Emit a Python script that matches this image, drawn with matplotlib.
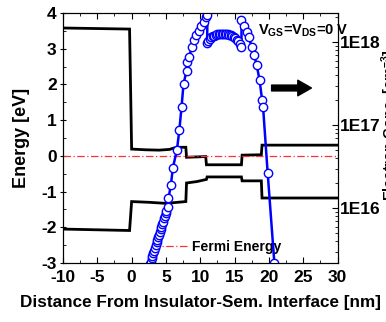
import numpy as np
import matplotlib
matplotlib.use("Agg")
import matplotlib.pyplot as plt
from matplotlib.ticker import MultipleLocator, LogLocator, NullFormatter

plt.rcParams['font.family'] = ['Liberation Sans', 'DejaVu Sans']
plt.rcParams['font.weight'] = 'bold'
plt.rcParams['axes.labelweight'] = 'bold'
plt.rcParams['axes.unicode_minus'] = False
plt.rcParams['mathtext.fontset'] = 'custom'
plt.rcParams['mathtext.rm'] = 'Liberation Sans:bold'
plt.rcParams['mathtext.bf'] = 'Liberation Sans:bold'
plt.rcParams['mathtext.it'] = 'Liberation Sans:bold'

# ---- data ----
cb_x = [-10, -0.3, 0.0, 2.0, 4.0, 5.5, 6.5, 7.9, 8.0, 10.8, 10.9, 16.0, 16.1, 18.9, 19.0, 30]
cb_y = [3.58, 3.55, 0.19, 0.17, 0.16, 0.18, 0.24, 0.24, -0.04, -0.02, -0.25, -0.25, 0.02, 0.03, 0.30, 0.30]

vb_x = [-10, -0.3, 0.0, 2.5, 5.0, 7.9, 8.0, 9.5, 10.9, 11.0, 16.0, 16.1, 18.9, 19.0, 30]
vb_y = [-2.05, -2.09, -1.28, -1.30, -1.33, -1.28, -0.76, -0.72, -0.66, -0.59, -0.59, -0.70, -0.70, -1.18, -1.18]

fermi_x = [-10, 30]
fermi_y = [0, 0]

elec_x = [2.55, 2.67, 2.79, 2.91, 3.03, 3.15, 3.27, 3.39, 3.51, 3.63, 3.75,
          3.87, 3.99, 4.11, 4.23, 4.35, 4.47, 4.59, 4.71, 4.83, 4.95, 5.07,
          5.23, 5.37, 5.72, 6.01, 6.60, 6.96, 7.27, 7.56, 8.00, 8.06, 8.39,
          8.79, 9.02, 9.37, 9.75, 10.15, 10.48, 10.88, 11.05,
          11.00, 11.17, 11.39, 11.61, 11.83, 12.05, 12.27, 12.49, 12.71, 12.93,
          13.15, 13.37, 13.59, 13.81, 14.03, 14.25, 14.47, 14.69, 14.91, 15.13,
          15.35, 15.57, 15.79, 16.01,
          16.01, 16.32, 16.76, 17.05, 17.49, 17.85, 18.22, 18.64, 19.01, 19.15,
          19.82, 20.80]
elec_n = [2.0e15, 2.14e15, 2.29e15, 2.51e15, 2.69e15, 2.88e15, 3.09e15, 3.31e15, 3.63e15, 3.89e15, 4.17e15,
          4.47e15, 4.79e15, 5.25e15, 5.62e15, 6.03e15, 6.46e15, 6.92e15, 7.59e15, 8.13e15, 8.71e15, 9.33e15,
          1.04e16, 1.32e16, 1.91e16, 3.08e16, 5.04e16, 8.85e16, 1.65e17, 3.12e17, 4.55e17, 5.84e17, 6.71e17,
          8.86e17, 1.05e18, 1.22e18, 1.38e18, 1.57e18, 1.77e18, 2.0e18, 2.13e18,
          9.77e17, 1.047e18, 1.096e18, 1.148e18, 1.175e18, 1.202e18, 1.230e18, 1.245e18, 1.259e18, 1.259e18,
          1.259e18, 1.259e18, 1.259e18, 1.259e18, 1.245e18, 1.230e18, 1.216e18, 1.189e18, 1.161e18, 1.122e18,
          1.072e18, 1.023e18, 9.55e17, 8.71e17,
          1.86e18, 1.57e18, 1.34e18, 1.17e18, 8.86e17, 7.03e17, 5.33e17, 3.52e17, 2.02e17, 1.68e17,
          2.70e16, 2.2e15]

x_ticks = [-10, -5, 0, 5, 10, 15, 20, 25, 30]
x_labels = ['-10', '-5', '0', '5', '10', '15', '20', '25', '30']
e_ticks = [-3, -2, -1, 0, 1, 2, 3, 4]
e_labels = ['-3', '-2', '-1', '0', '1', '2', '3', '4']
n_ticks = [1e16, 1e17, 1e18]
n_labels = ['1E16', '1E17', '1E18']

# ---- figure ----
fig = plt.figure(figsize=(3.86, 3.22), dpi=100)
ax = fig.add_axes([63/386, 1 - 263/322, 274.5/386, 250/322])

ax.plot(cb_x, cb_y, color='black', lw=2.0, solid_joinstyle='miter')
ax.plot(vb_x, vb_y, color='black', lw=2.0, solid_joinstyle='miter')
fl, = ax.plot(fermi_x, fermi_y, color='#ff3030', lw=0.9, linestyle=(0, (6, 2, 1, 2)),
              label='Fermi Energy')

ax.set_xlim(-10, 30)
ax.set_ylim(-3, 4)
tick_font = {'size': 12.5, 'weight': 'bold', 'family': 'Liberation Sans'}
ax.set_xticks(x_ticks, labels=x_labels, fontdict=tick_font)
ax.set_yticks(e_ticks, labels=e_labels, fontdict=tick_font)
ax.xaxis.set_minor_locator(MultipleLocator(2.5))
ax.yaxis.set_minor_locator(MultipleLocator(0.5))
ax.tick_params(axis='x', which='both', direction='in', top=True, pad=5)
ax.tick_params(axis='x', which='major', length=4)
ax.tick_params(axis='x', which='minor', length=2.5)
ax.tick_params(axis='y', which='major', direction='inout', length=5, pad=2)
ax.tick_params(axis='y', which='minor', direction='in', length=2.5)
ax.set_xlabel('Distance From Insulator-Sem. Interface [nm]', fontsize=12.3, labelpad=7,
              fontweight='bold')
ax.set_ylabel('Energy [eV]', fontsize=13, labelpad=8, fontweight='bold')

leg = ax.legend(handles=[fl], loc='center left', bbox_to_anchor=(0.325, 0.064),
                frameon=False, prop={'size': 10, 'weight': 'bold'}, handlelength=2.5,
                handletextpad=0.35, borderpad=0, borderaxespad=0)

ax2 = ax.twinx()
ax2.set_yscale('log')
ax2.plot(elec_x, elec_n, color='blue', lw=1.8, marker='o', ms=6,
         mfc='white', mec='blue', mew=1.0)
ax2.set_ylim(2.2e15, 2.25e18)
ax2.set_yticks(n_ticks, labels=n_labels, fontdict=tick_font)
ax2.yaxis.set_minor_locator(LogLocator(base=10, subs=np.arange(2, 10)))
ax2.yaxis.set_minor_formatter(NullFormatter())
ax2.set_ylim(2.2e15, 2.25e18)
ax2.tick_params(axis='y', which='major', direction='in', length=4, pad=2)
ax2.tick_params(axis='y', which='minor', direction='in', length=2)

fig.text(379/386, 1 - 125/322, 'Electron Conc. [cm$^{-3}$]', rotation=90,
         ha='left', va='center', fontsize=10.5, fontweight='bold')

ax2.text(0.71, 0.93, r'V$_{GS}$=V$_{DS}$=0 V', transform=ax2.transAxes,
         fontsize=10.5, ha='left', va='center', fontweight='bold')

ax2.annotate('', xy=(0.905, 0.70), xytext=(0.76, 0.70), xycoords='axes fraction',
             arrowprops=dict(arrowstyle='simple,head_length=0.7,head_width=0.8,tail_width=0.3',
                             fc='black', ec='black', mutation_scale=14, shrinkA=0, shrinkB=0))

fig.savefig('out.png', dpi=100)
